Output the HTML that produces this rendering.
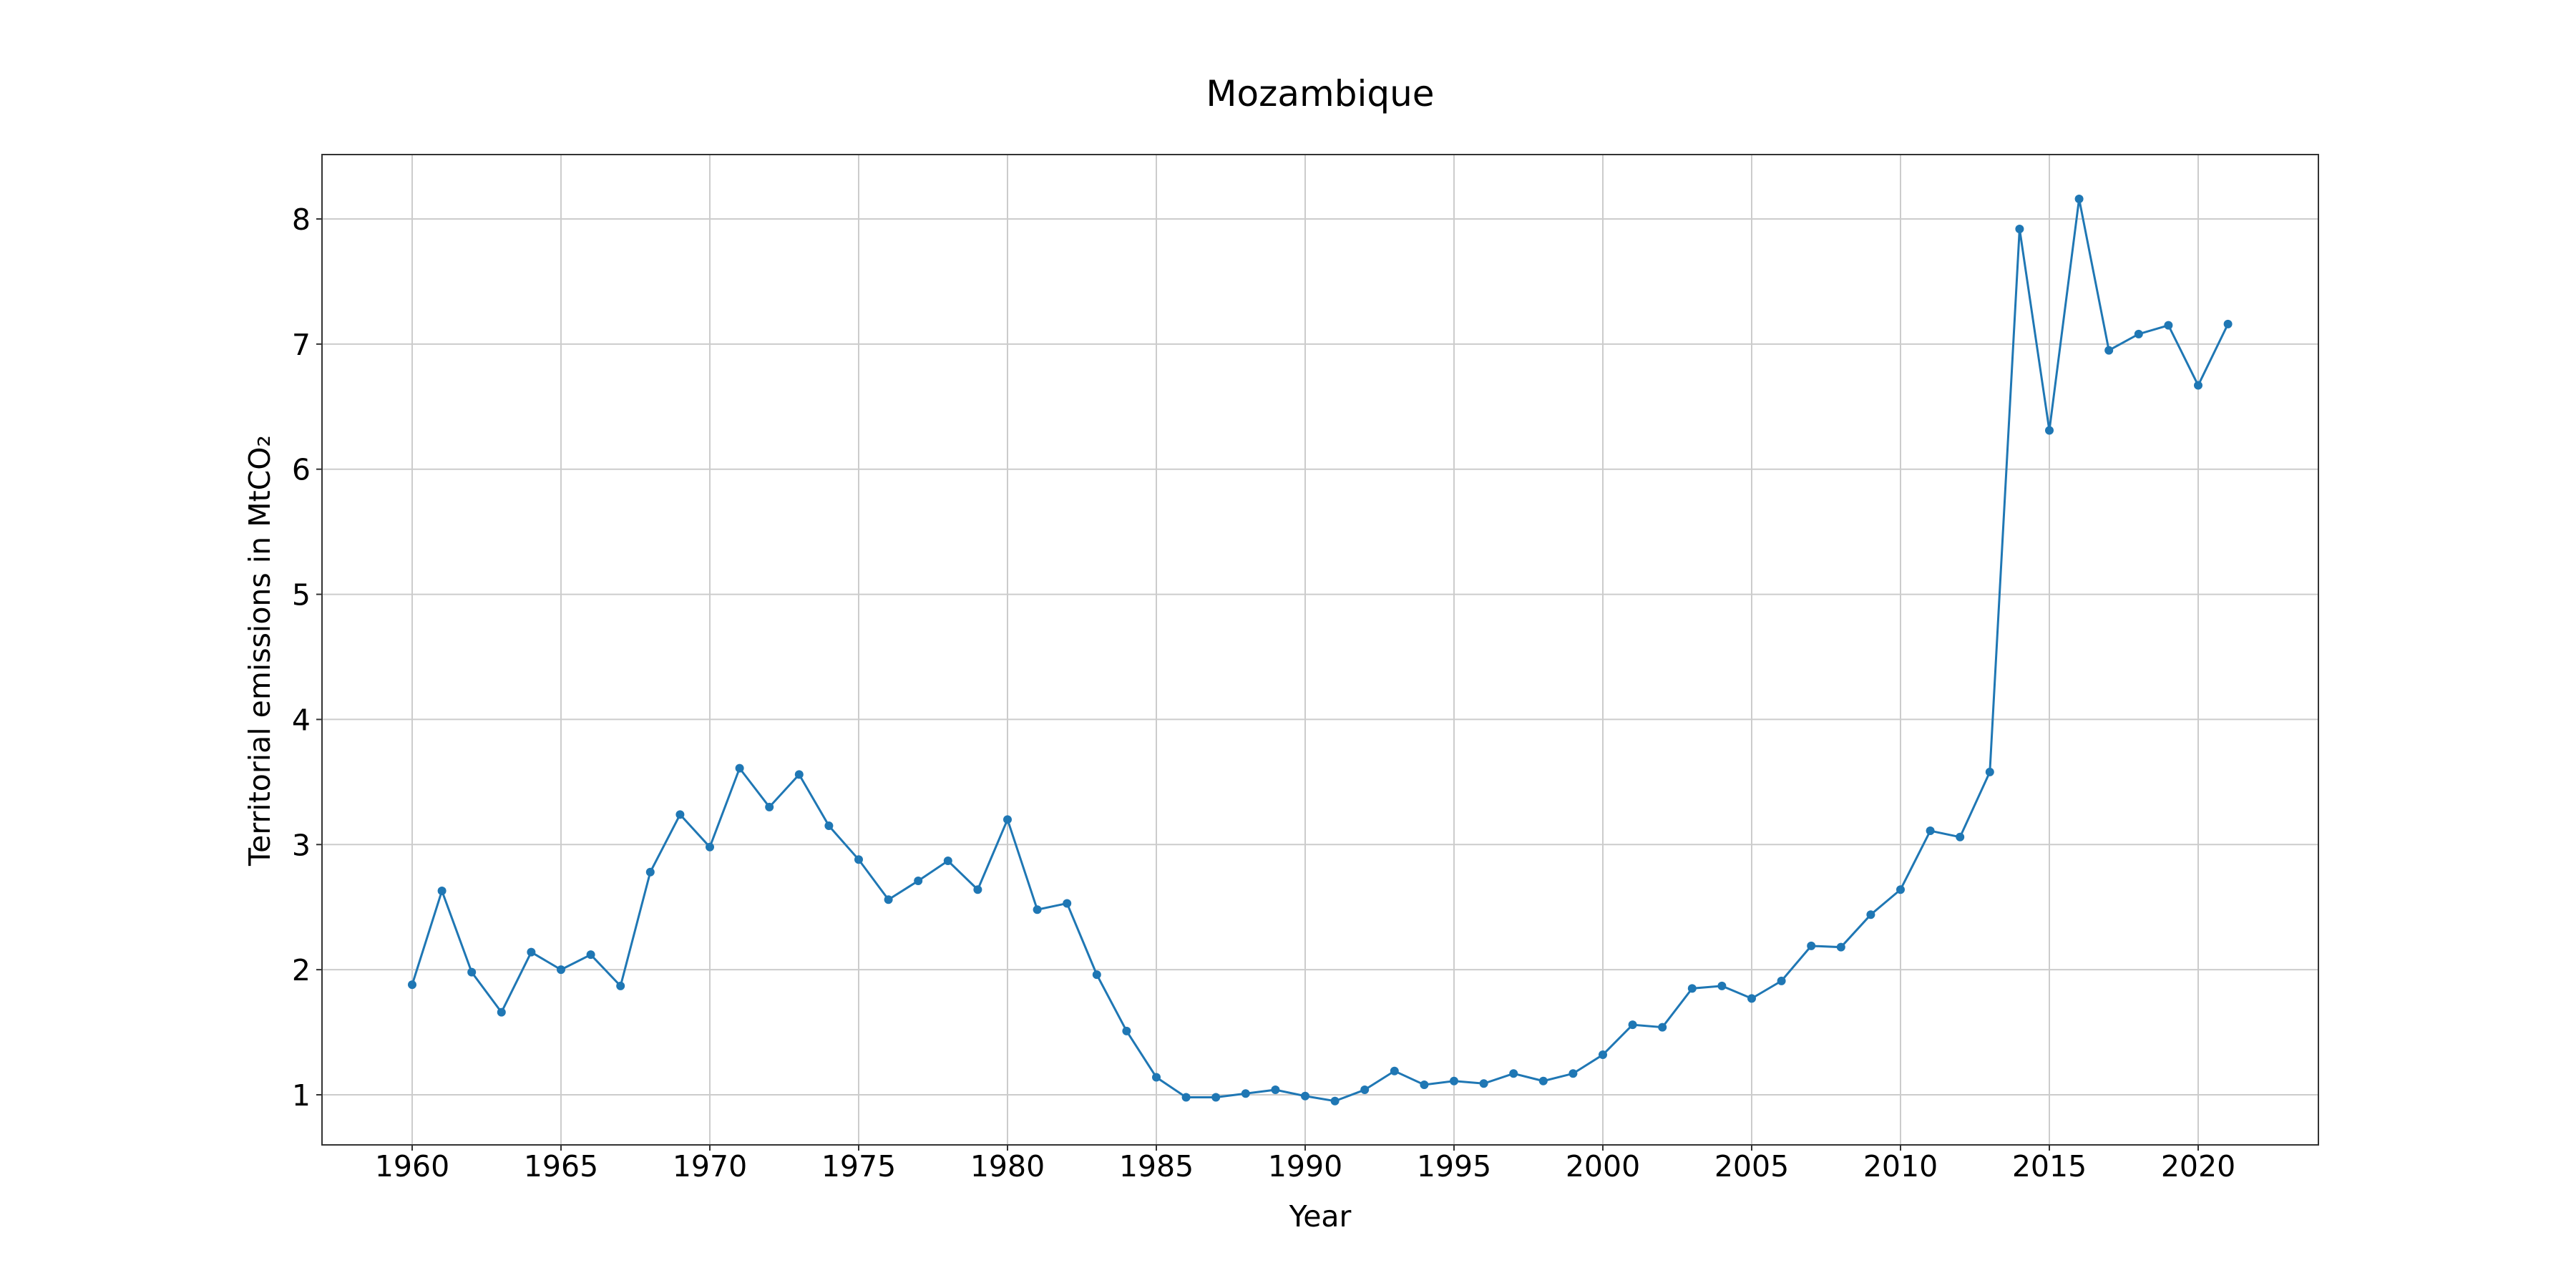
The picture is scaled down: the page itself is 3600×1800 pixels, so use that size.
<!DOCTYPE html>
<html><head><meta charset="utf-8"><style>
html,body{margin:0;padding:0;background:#fff;}
svg{display:block;font-family:"DejaVu Sans","Liberation Sans",sans-serif;}
</style></head><body>
<svg id="chart" width="3600" height="1800" viewBox="0 0 3600 1800">
<rect width="3600" height="1800" fill="#fff"/>
<g id="grid"></g>
<g id="xticks"></g>
<g id="yticks"></g>
<g id="series"></g>
<rect x="450" y="216" width="2790" height="1384" fill="none" stroke="#333" stroke-width="2"/>
<text x="1845" y="148" font-size="50" text-anchor="middle">Mozambique</text>
<text x="1845" y="1714" font-size="41" text-anchor="middle">Year</text>
<text transform="translate(377,909) rotate(-90)" font-size="41" text-anchor="middle">Territorial emissions in MtCO₂</text>
</svg>
<script>
const years = [1960,1961,1962,1963,1964,1965,1966,1967,1968,1969,1970,1971,1972,1973,1974,1975,1976,1977,1978,1979,1980,1981,1982,1983,1984,1985,1986,1987,1988,1989,1990,1991,1992,1993,1994,1995,1996,1997,1998,1999,2000,2001,2002,2003,2004,2005,2006,2007,2008,2009,2010,2011,2012,2013,2014,2015,2016,2017,2018,2019,2020,2021];
const emissions = [1.88,2.63,1.98,1.66,2.14,2.00,2.12,1.87,2.78,3.24,2.98,3.61,3.30,3.56,3.15,2.88,2.56,2.71,2.87,2.64,3.20,2.48,2.53,1.96,1.51,1.14,0.98,0.98,1.01,1.04,0.99,0.95,1.04,1.19,1.08,1.11,1.09,1.17,1.11,1.17,1.32,1.56,1.54,1.85,1.87,1.77,1.91,2.19,2.18,2.44,2.64,3.11,3.06,3.58,7.92,6.31,8.16,6.95,7.08,7.15,6.67,7.16];
const xTickLabels = [1960,1965,1970,1975,1980,1985,1990,1995,2000,2005,2010,2015,2020];
const yTickLabels = [1,2,3,4,5,6,7,8];

const NS="http://www.w3.org/2000/svg";
const X0=450,X1=3240,Y0=216,Y1=1600;
function xs(v){return 576+(v-1960)*(3072-576)/60;}
function ys(v){return 1530-(v-1)*(1530-306)/7;}
function mk(tag,attrs,parent){const e=document.createElementNS(NS,tag);for(const k in attrs)e.setAttribute(k,attrs[k]);parent.appendChild(e);return e;}
const grid=document.getElementById('grid'),gx=document.getElementById('xticks'),gy=document.getElementById('yticks'),gs=document.getElementById('series');
xTickLabels.forEach(t=>{
  const x=xs(t);
  const l=mk('line',{x1:x,x2:x,y1:Y0,y2:Y1,stroke:'#ccc','stroke-width':2},grid);
  
  
  mk('line',{x1:x,x2:x,y1:Y1,y2:Y1+8,stroke:'#333','stroke-width':2},gx);
  const tx=mk('text',{x:x,y:1644,'font-size':41,'text-anchor':'middle'},gx);
  tx.textContent=t;
  
  
});
yTickLabels.forEach(t=>{
  const y=ys(t);
  const l=mk('line',{x1:X0,x2:X1,y1:y,y2:y,stroke:'#ccc','stroke-width':2},grid);
  
  
  mk('line',{x1:X0-8,x2:X0,y1:y,y2:y,stroke:'#333','stroke-width':2},gy);
  const tx=mk('text',{x:434,y:y+15,'font-size':41,'text-anchor':'end'},gy);
  tx.textContent=t;
  
  
});
const pts=years.map((yr,i)=>xs(yr)+','+ys(emissions[i])).join(' ');
const pl=mk('polyline',{points:pts,fill:'none',stroke:'#1f77b4','stroke-width':3},gs);


years.forEach((yr,i)=>{
  const c=mk('circle',{cx:xs(yr),cy:ys(emissions[i]),r:6,fill:'#1f77b4'},gs);
  
  
});
</script>
</body></html>
